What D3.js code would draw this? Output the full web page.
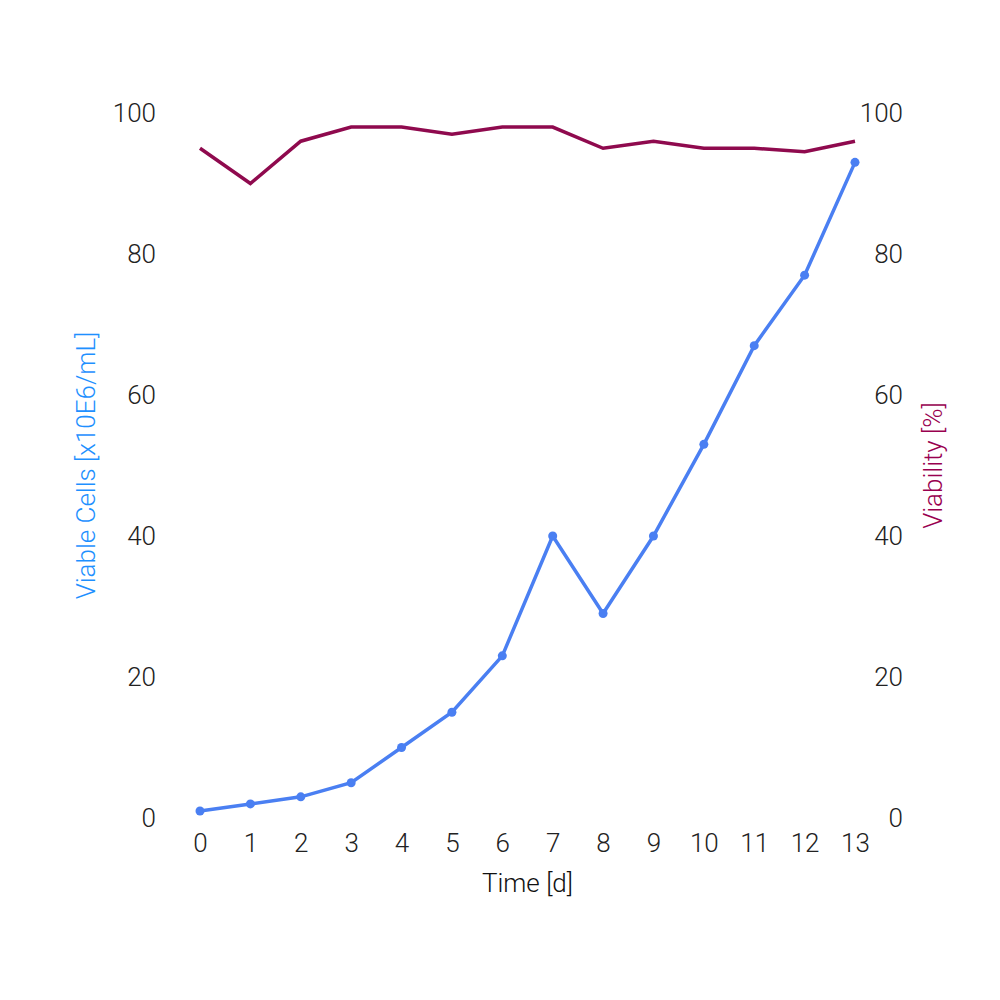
<!DOCTYPE html>
<html>
<head>
<meta charset="utf-8">
<script src="https://cdn.jsdelivr.net/npm/d3@7"></script>
<style>
  body { margin: 0; background: #fff; }
  svg text { font-family: Roboto, "Liberation Sans", sans-serif; font-weight: 300; }
</style>
</head>
<body>
<div class="chart"></div>
<script>
var days = [0, 1, 2, 3, 4, 5, 6, 7, 8, 9, 10, 11, 12, 13];
var viableCells = [1, 2, 3, 5, 10, 15, 23, 40, 29, 40, 53, 67, 77, 93];
var viability = [95, 90, 96, 98, 98, 97, 98, 98, 95, 96, 95, 95, 94.5, 96];
var yTicks = [0, 20, 40, 60, 80, 100];

var width = 1000;
var height = 1000;
var margin = { left: 200, right: 145, top: 113, bottom: 182 };
var fontSize = '26px';

var svg = d3.select('.chart')
  .append('svg')
  .attr('width', width)
  .attr('height', height);

var x = d3.scaleLinear()
  .domain([0, 13])
  .range([margin.left, width - margin.right]);

var yLeft = d3.scaleLinear()
  .domain([0, 100])
  .range([height - margin.bottom, margin.top]);

var yRight = d3.scaleLinear()
  .domain([0, 100])
  .range([height - margin.bottom, margin.top]);

// axes without lines, just labels
var xAxis = svg.append('g')
  .attr('transform', 'translate(0,' + (height - margin.bottom + 10) + ')')
  .call(d3.axisBottom(x).tickValues(days).tickSize(0).tickPadding(6));

var leftAxis = svg.append('g')
  .attr('transform', 'translate(' + (margin.left - 44) + ',0)')
  .call(d3.axisLeft(yLeft).tickValues(yTicks).tickSize(0).tickPadding(0));

var rightAxis = svg.append('g')
  .attr('transform', 'translate(' + (width - margin.right + 48) + ',0)')
  .call(d3.axisLeft(yRight).tickValues(yTicks).tickSize(0).tickPadding(0));

[xAxis, leftAxis, rightAxis].forEach(function(a) {
  a.select('.domain').remove();
  a.selectAll('text')
    .attr('fill', '#222')
    .style('font-size', fontSize)
    .style('font-family', 'Roboto, "Liberation Sans", sans-serif')
    .style('font-weight', 300);
});

// axis titles
svg.append('text')
  .attr('x', (margin.left + width - margin.right) / 2)
  .attr('y', 892)
  .attr('text-anchor', 'middle')
  .attr('fill', '#111')
  .style('font-size', fontSize)
  .text('Time [d]');

svg.append('text')
  .attr('transform', 'translate(95,' + (height - margin.bottom + margin.top) / 2 + ') rotate(-90)')
  .attr('text-anchor', 'middle')
  .attr('fill', '#1e90ff')
  .style('font-size', fontSize)
  .text('Viable Cells [x10E6/mL]');

svg.append('text')
  .attr('transform', 'translate(942,' + (height - margin.bottom + margin.top) / 2 + ') rotate(-90)')
  .attr('text-anchor', 'middle')
  .attr('fill', '#99004f')
  .style('font-size', fontSize)
  .text('Viability [%]');

// viability line
var viaLine = d3.line()
  .x(function(d, i) { return x(days[i]); })
  .y(function(d) { return yRight(d); });

svg.append('path')
  .datum(viability)
  .attr('d', viaLine)
  .attr('fill', 'none')
  .attr('stroke', '#8f0a4e')
  .attr('stroke-width', 3.5);

// viable cells line
var cellLine = d3.line()
  .x(function(d, i) { return x(days[i]); })
  .y(function(d) { return yLeft(d); });

svg.append('path')
  .datum(viableCells)
  .attr('d', cellLine)
  .attr('fill', 'none')
  .attr('stroke', '#4a7ff2')
  .attr('stroke-width', 3.5);

svg.selectAll('.dot')
  .data(viableCells)
  .enter()
  .append('circle')
  .attr('class', 'dot')
  .attr('cx', function(d, i) { return x(days[i]); })
  .attr('cy', function(d) { return yLeft(d); })
  .attr('r', 4.5)
  .attr('fill', '#4a7ff2');
</script>
</body>
</html>
